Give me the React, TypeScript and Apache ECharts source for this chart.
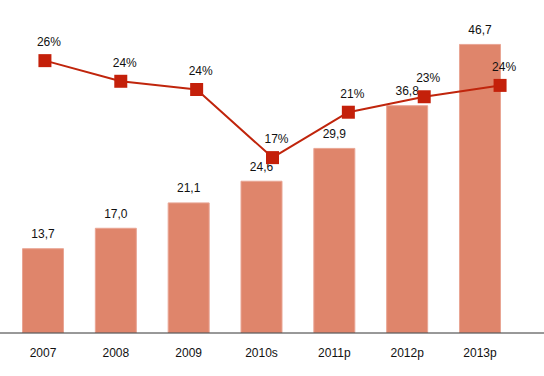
import React, { useEffect, useRef } from "react";
import * as echarts from "echarts";

const categories = ["2007", "2008", "2009", "2010s", "2011p", "2012p", "2013p"];
const barValues = [13.7, 17.0, 21.1, 24.6, 29.9, 36.8, 46.7];
const shareValues = [26.4, 24.4, 23.6, 17.0, 21.4, 22.9, 24.0];

const FONT = "Liberation Sans, Arial, sans-serif";

export default function App() {
  const ref = useRef<HTMLDivElement>(null);
  useEffect(() => {
    document.body.style.margin = "0";
    const chart = echarts.init(ref.current!, null, { renderer: "svg" });
    chart.setOption({
      animation: false,
      backgroundColor: "#ffffff",
      textStyle: { fontFamily: FONT },
      grid: [
        { left: 6.6, right: 27.6, top: 23.5, bottom: 43 },
        { left: 7, right: 6, top: 23.5, bottom: 43 },
      ],
      xAxis: [
        {
          type: "category",
          gridIndex: 0,
          data: categories,
          boundaryGap: true,
          axisLine: { show: false },
          axisTick: { show: false },
          axisLabel: { color: "#111", fontSize: 12, margin: 14, fontFamily: FONT },
        },
        {
          type: "category",
          gridIndex: 1,
          data: categories,
          boundaryGap: true,
          show: false,
        },
      ],
      yAxis: [
        { type: "value", gridIndex: 0, min: 0, max: 50, show: false },
        { type: "value", gridIndex: 1, min: 0, max: 30, show: false },
      ],
      graphic: [
        {
          type: "line",
          shape: { x1: 0, y1: 333, x2: 544, y2: 333 },
          style: { stroke: "#333", lineWidth: 1 },
          z: 10,
        },
      ],
      series: [
        {
          type: "bar",
          xAxisIndex: 0,
          yAxisIndex: 0,
          data: barValues,
          barWidth: 42,
          itemStyle: { color: "#DF856B", borderColor: "#E9A594", borderWidth: 1 },
          label: {
            show: true,
            position: "top",
            distance: 8,
            color: "#111",
            fontSize: 12,
            fontFamily: FONT,
            formatter: (p: any) => p.value.toFixed(1).replace(".", ","),
          },
          z: 2,
        },
        {
          type: "line",
          xAxisIndex: 1,
          yAxisIndex: 1,
          data: shareValues,
          symbol: "rect",
          symbolSize: 13,
          lineStyle: { color: "#C0250C", width: 2 },
          itemStyle: { color: "#C4200A" },
          label: {
            show: true,
            position: "top",
            distance: 6,
            offset: [4, 0],
            color: "#111",
            fontSize: 12,
            fontFamily: FONT,
            formatter: (p: any) => Math.round(p.value) + "%",
          },
          z: 3,
        },
      ],
    });
    return () => chart.dispose();
  }, []);
  return (
    <div
      ref={ref}
      style={{ position: "absolute", left: 0, top: 0, width: 544, height: 376 }}
    />
  );
}
